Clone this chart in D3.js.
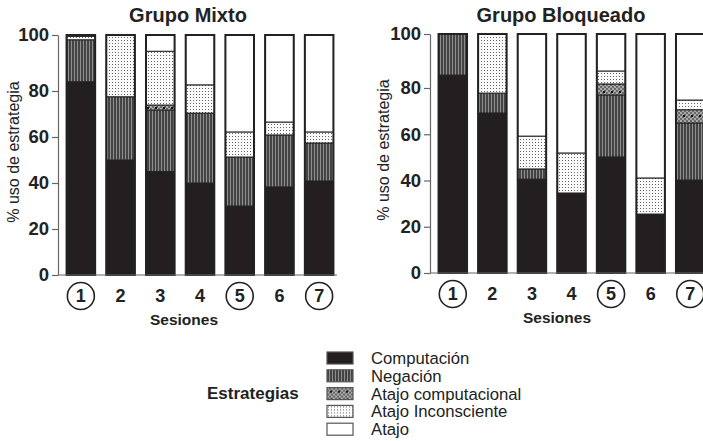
<!DOCTYPE html>
<html>
<head>
<meta charset="utf-8">
<script src="https://cdn.jsdelivr.net/npm/d3@7"></script>
<style>
  html, body { margin: 0; padding: 0; background: #fff; }
  svg { display: block; font-family: "Liberation Sans", Arial, Helvetica, sans-serif; }
</style>
</head>
<body>
<svg id="chart" width="703" height="441"></svg>
<script>
// ---- Data ----
const sessions = ["1", "2", "3", "4", "5", "6", "7"];
const circledSessions = ["1", "5", "7"];
const strategies = ["Computación", "Negación", "Atajo computacional", "Atajo Inconsciente", "Atajo"];
const yTicks = [0, 20, 40, 60, 80, 100];

// Grupo Mixto (% per session)
const mixtoComputacion = [83.3, 50, 45, 40, 30, 38.3, 40.9];
const mixtoNegacion    = [15, 27.5, 26.7, 30.4, 21.3, 22.6, 16.5];
const mixtoAtajoComp   = [0, 0, 2.2, 0, 0, 0, 0];
const mixtoAtajoIncons = [1.2, 22.5, 20.3, 11.8, 10.9, 5.6, 4.8];
const mixtoAtajo       = [0.5, 0, 5.8, 17.8, 37.8, 33.5, 37.8];

// Grupo Bloqueado (% per session)
const bloqComputacion = [84.8, 69.2, 40.6, 34.6, 50.2, 25.5, 40.2];
const bloqNegacion    = [15.2, 8.6, 4.4, 0, 26.8, 0, 24.7];
const bloqAtajoComp   = [0, 0, 0, 0, 4.5, 0, 5.7];
const bloqAtajoIncons = [0, 22.2, 14.2, 17.3, 4.8, 15.6, 4.2];
const bloqAtajo       = [0, 0, 40.8, 48.1, 13.7, 58.9, 25.2];

function buildRows(series) {
  return sessions.map((s, i) => {
    const row = { session: s };
    strategies.forEach((k, j) => { row[k] = series[j][i]; });
    return row;
  });
}
const mixtoRows = buildRows([mixtoComputacion, mixtoNegacion, mixtoAtajoComp, mixtoAtajoIncons, mixtoAtajo]);
const bloqRows  = buildRows([bloqComputacion, bloqNegacion, bloqAtajoComp, bloqAtajoIncons, bloqAtajo]);

// ---- Drawing ----
const svg = d3.select("#chart");
const defs = svg.append("defs");

// Negación: vertical stripes
let p = defs.append("pattern").attr("id", "pNeg").attr("patternUnits", "userSpaceOnUse")
  .attr("width", 3).attr("height", 3);
p.append("rect").attr("width", 3).attr("height", 3).attr("fill", "#444");
p.append("rect").attr("x", 2).attr("width", 1).attr("height", 3).attr("fill", "#8e8e8e");

// Atajo computacional: fine checker with black dots
p = defs.append("pattern").attr("id", "pAComp").attr("patternUnits", "userSpaceOnUse")
  .attr("width", 8).attr("height", 8);
p.append("rect").attr("width", 8).attr("height", 8).attr("fill", "#6a6a6a");
for (let yy = 0; yy < 8; yy += 2) {
  for (let xx = 0; xx < 8; xx += 2) {
    if (((xx + yy) / 2) % 2 === 0) p.append("rect").attr("x", xx).attr("y", yy).attr("width", 2).attr("height", 2).attr("fill", "#a8a8a8");
  }
}
p.append("rect").attr("x", 3).attr("y", 3).attr("width", 2).attr("height", 2).attr("fill", "#111");

// Atajo Inconsciente: light stipple
p = defs.append("pattern").attr("id", "pAInc").attr("patternUnits", "userSpaceOnUse")
  .attr("width", 3).attr("height", 3);
p.append("rect").attr("width", 3).attr("height", 3).attr("fill", "#fafafa");
p.append("rect").attr("x", 1).attr("y", 1).attr("width", 1).attr("height", 1).attr("fill", "#666");

const fills = {
  "Computación": "#231f20",
  "Negación": "url(#pNeg)",
  "Atajo computacional": "url(#pAComp)",
  "Atajo Inconsciente": "url(#pAInc)",
  "Atajo": "#ffffff"
};

const stack = d3.stack().keys(strategies);

function panel(cfg) {
  const g = svg.append("g");
  const x = d3.scaleBand().domain(sessions).range(cfg.xRange).paddingInner(0.28).paddingOuter(0.14);
  const y = d3.scaleLinear().domain([0, 80, 100]).range(cfg.yRange);

  g.append("text").attr("x", cfg.titleX).attr("y", 22).attr("text-anchor", "middle")
    .attr("font-size", 20).attr("font-weight", "bold").attr("fill", "#222").text(cfg.title);

  const series = stack(cfg.rows);
  g.append("g").selectAll("g").data(series).join("g")
    .attr("fill", d => fills[d.key])
    .selectAll("rect").data(d => d.filter(s => s[1] - s[0] > 0)).join("rect")
      .attr("x", d => x(d.data.session))
      .attr("width", x.bandwidth())
      .attr("y", d => y(d[1]))
      .attr("height", d => y(d[0]) - y(d[1]))
      .attr("stroke", "#222").attr("stroke-width", 1);

  g.append("g").selectAll("rect").data(cfg.rows).join("rect")
    .attr("x", d => x(d.session))
    .attr("width", x.bandwidth())
    .attr("y", d => y(d3.sum(strategies, k => d[k])))
    .attr("height", d => y(0) - y(d3.sum(strategies, k => d[k])))
    .attr("fill", "none").attr("stroke", "#222").attr("stroke-width", 2);

  const ya = g.append("g").attr("transform", `translate(${cfg.axisX},0)`)
    .call(d3.axisLeft(y).tickValues(yTicks).tickSize(6).tickSizeOuter(0).tickPadding(3));
  ya.select(".domain").attr("stroke", "#666").attr("stroke-width", 1.2);
  ya.selectAll(".tick line").attr("stroke", "#666").attr("stroke-width", 1.2);
  ya.selectAll(".tick text").attr("font-size", 18.5).attr("font-weight", "bold").attr("fill", "#222")
    .attr("font-family", "'Liberation Sans', Arial, sans-serif");

  g.append("line").attr("x1", cfg.axisX).attr("x2", cfg.xLineEnd)
    .attr("y1", y(0)).attr("y2", y(0)).attr("stroke", "#666").attr("stroke-width", 1.2);

  const lab = g.append("g").selectAll("g").data(sessions).join("g")
    .attr("transform", d => `translate(${x(d) + x.bandwidth() / 2},${y(0) + 21})`);
  lab.filter(d => circledSessions.includes(d)).append("circle")
    .attr("r", 13.5).attr("fill", "none").attr("stroke", "#222").attr("stroke-width", 1.6);
  lab.append("text").attr("text-anchor", "middle").attr("dy", "0.36em")
    .attr("font-size", 18).attr("font-weight", "bold").attr("fill", "#222").text(d => d);

  g.append("text").attr("x", cfg.titleX - 4).attr("y", y(0) + 50).attr("text-anchor", "middle")
    .attr("font-size", 15.5).attr("font-weight", "bold").attr("fill", "#222").text("Sesiones");
  g.append("text").attr("transform", `translate(${cfg.yLabelX},${cfg.yLabelY}) rotate(-90)`)
    .attr("text-anchor", "middle").attr("font-size", 16).attr("fill", "#222").text("% uso de estrategia");
}

panel({ rows: mixtoRows, title: "Grupo Mixto", titleX: 188, xRange: [61, 339], yRange: [275, 91, 35],
        axisX: 58, xLineEnd: 337, yLabelX: 19, yLabelY: 152 });
panel({ rows: bloqRows, title: "Grupo Bloqueado", titleX: 561, xRange: [433, 710], yRange: [273, 88, 34],
        axisX: 430, xLineEnd: 710, yLabelX: 389, yLabelY: 150 });

const lg = svg.append("g");
lg.append("text").attr("x", 207).attr("y", 399).attr("font-size", 17).attr("font-weight", "bold")
  .attr("fill", "#222").text("Estrategias");
const items = lg.selectAll("g.item").data(strategies).join("g").attr("class", "item")
  .attr("transform", (d, i) => `translate(327,${352 + i * 17.8})`);
items.append("rect").attr("width", 26).attr("height", 12).attr("fill", d => fills[d])
  .attr("stroke", "#555").attr("stroke-width", 1.2);
items.append("text").attr("x", 44).attr("y", 6).attr("dy", "0.36em").attr("font-size", 16.7)
  .attr("fill", "#222").text(d => d);
</script>
</body>
</html>
